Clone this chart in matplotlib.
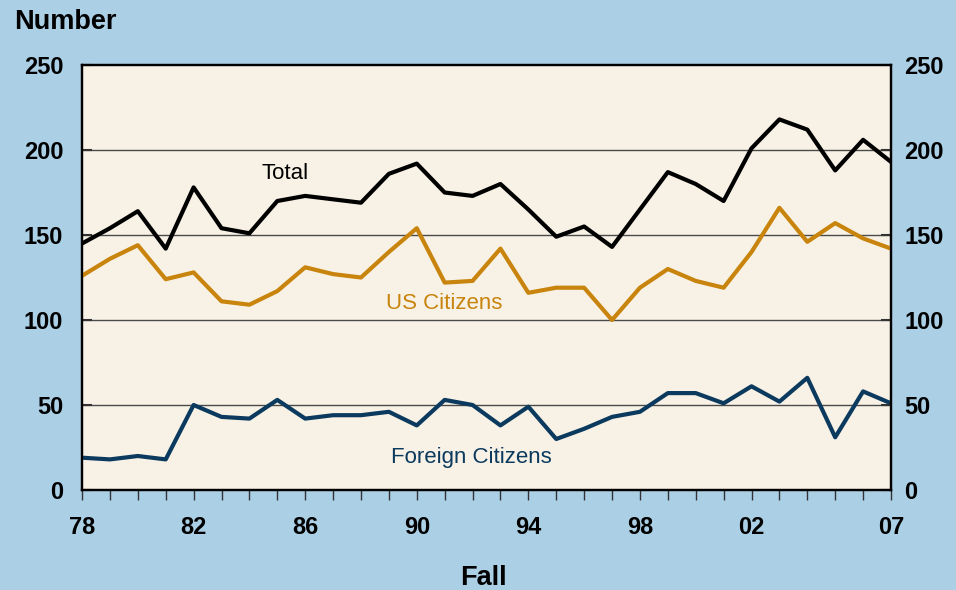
import numpy as np
import matplotlib.pyplot as plt

plt.rcParams['font.family'] = ['Liberation Sans', 'DejaVu Sans']

years = np.arange(1978, 2008)
total = [145, 154, 164, 142, 178, 154, 151, 170, 173, 171, 169, 186, 192, 175, 173,
         180, 165, 149, 155, 143, 165, 187, 180, 170, 201, 218, 212, 188, 206, 193]
us_citizens = [126, 136, 144, 124, 128, 111, 109, 117, 131, 127, 125, 140, 154, 122, 123,
               142, 116, 119, 119, 100, 119, 130, 123, 119, 140, 166, 146, 157, 148, 142]
foreign = [19, 18, 20, 18, 50, 43, 42, 53, 42, 44, 44, 46, 38, 53, 50,
           38, 49, 30, 36, 43, 46, 57, 57, 51, 61, 52, 66, 31, 58, 51]
xtick_years = [1978, 1982, 1986, 1990, 1994, 1998, 2002, 2007]
xtick_labels = ['78', '82', '86', '90', '94', '98', '02', '07']
yticks = [0, 50, 100, 150, 200, 250]

bg = '#abd0e6'
face = '#f8f2e6'
c_total = '#000000'
c_us = '#c8840c'
c_for = '#0b3a5e'

fig = plt.figure(figsize=(9.56, 5.90), dpi=100, facecolor=bg)
ax = fig.add_axes([0.0858, 0.1695, 0.8462, 0.7203])
ax.set_facecolor(face)

for v in yticks[1:-1]:
    ax.axhline(v, color='#4a4a4a', lw=1.0, zorder=1)

ax.plot(years, total, color=c_total, lw=3, zorder=3)
ax.plot(years, us_citizens, color=c_us, lw=3, zorder=3)
ax.plot(years, foreign, color=c_for, lw=3, zorder=3)

ax.set_xlim(1978, 2007)
ax.set_ylim(0, 250)

ax.set_xticks(xtick_years)
ax.set_xticklabels(xtick_labels, fontweight='bold')
ax.set_xticks(years, minor=True)
ax.tick_params(axis='x', which='both', direction='out', length=7.5, width=1.0,
               labelsize=17, pad=11, color='#333333')

ax.set_yticks(yticks)
ax.set_yticklabels([str(v) for v in yticks], fontweight='bold')
ax.tick_params(axis='y', direction='in', length=7, width=1.5,
               labelsize=17, pad=13.5, color='#333333')

ax2 = ax.twinx()
ax2.set_ylim(0, 250)
ax2.set_yticks(yticks)
ax2.set_yticklabels([str(v) for v in yticks], fontweight='bold')
ax2.tick_params(axis='y', direction='in', length=7, width=1.5,
                labelsize=17, pad=9.5, color='#333333')

for a in (ax, ax2):
    for s in a.spines.values():
        s.set_linewidth(1.6)
        s.set_color('black')

ax.text(1985.28, 186, 'Total', fontsize=16, color=c_total, ha='center', va='center')
ax.text(1991.0, 109.5, 'US Citizens', fontsize=16, color=c_us, ha='center', va='center')
ax.text(1991.94, 19.4, 'Foreign Citizens', fontsize=16, color=c_for, ha='center', va='center')

fig.text(14 / 956, 1 - 22 / 590, 'Number', fontsize=19.5, fontweight='bold',
         ha='left', va='center')
fig.text(483 / 956, 1 - 578 / 590, 'Fall', fontsize=19.5, fontweight='bold',
         ha='center', va='center')

fig.savefig('out.png', dpi=100, facecolor=bg)
